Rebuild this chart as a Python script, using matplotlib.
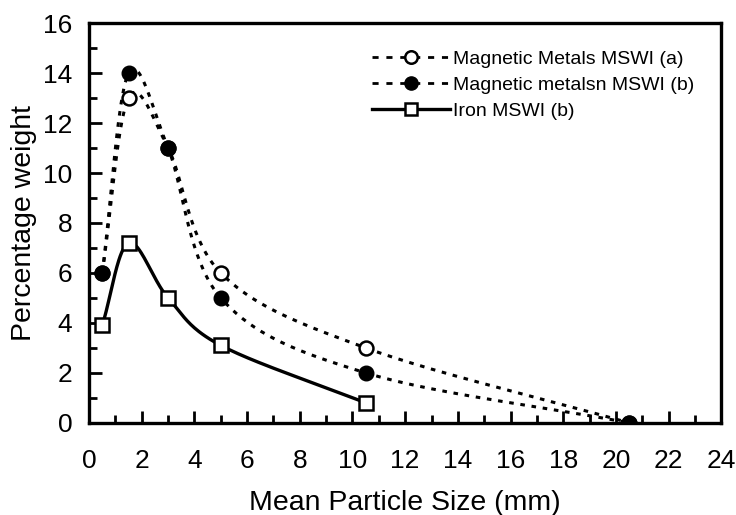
import numpy as np
import matplotlib.pyplot as plt
from matplotlib.ticker import MultipleLocator

plt.rcParams['font.family'] = ['Liberation Sans', 'DejaVu Sans']

# data
x_a = [0.5, 1.5, 3, 5, 10.5, 20.5]
y_a = [6, 13, 11, 6, 3, 0]
x_b = [0.5, 1.5, 3, 5, 10.5, 20.5]
y_b = [6, 14, 11, 5, 2, 0]
x_fe = [0.5, 1.5, 3, 5, 10.5]
y_fe = [3.9, 7.2, 5, 3.1, 0.8]
labels = ['Magnetic Metals MSWI (a)', 'Magnetic metalsn MSWI (b)', 'Iron MSWI (b)']


def smooth(xs, ys, n=40):
    # catmull-rom style curve through the points (like excel smoothed lines)
    xs = np.asarray(xs, float)
    ys = np.asarray(ys, float)
    px = np.concatenate([[2 * xs[0] - xs[1]], xs, [2 * xs[-1] - xs[-2]]])
    py = np.concatenate([[2 * ys[0] - ys[1]], ys, [2 * ys[-1] - ys[-2]]])
    outx, outy = [], []
    for i in range(1, len(px) - 2):
        t = np.linspace(0, 1, n)
        x0, x1, x2, x3 = px[i - 1:i + 3]
        y0, y1, y2, y3 = py[i - 1:i + 3]
        k = 1 / 6
        c1x, c1y = x1 + (x2 - x0) * k, y1 + (y2 - y0) * k
        c2x, c2y = x2 - (x3 - x1) * k, y2 - (y3 - y1) * k
        bx = (1 - t) ** 3 * x1 + 3 * (1 - t) ** 2 * t * c1x + 3 * (1 - t) * t ** 2 * c2x + t ** 3 * x2
        by = (1 - t) ** 3 * y1 + 3 * (1 - t) ** 2 * t * c1y + 3 * (1 - t) * t ** 2 * c2y + t ** 3 * y2
        outx.extend(bx)
        outy.extend(by)
    return outx, outy


fig = plt.figure(figsize=(7.36, 5.15), dpi=100)
ax = fig.add_axes([0.121, 0.179, 0.859, 0.776])

dash = (0, (1.5, 2.2))
sx, sy = smooth(x_a, y_a)
ax.plot(sx, sy, color='black', lw=2.2, ls=dash)
sx, sy = smooth(x_b, y_b)
ax.plot(sx, sy, color='black', lw=2.2, ls=dash)
sx, sy = smooth(x_fe, y_fe)
ax.plot(sx, sy, color='black', lw=2.4)

ax.plot(x_a, y_a, ls='none', marker='o', ms=10, mfc='white', mec='black', mew=1.8, zorder=3)
ax.plot(x_b, y_b, ls='none', marker='o', ms=10.5, mfc='black', mec='black', zorder=4)
ax.plot(x_fe, y_fe, ls='none', marker='s', ms=9.5, mfc='white', mec='black', mew=1.8, zorder=3)

# legend handles
leg_dash = (0, (2.2, 2.8))
ha, = ax.plot([], [], color='black', lw=2, ls=leg_dash, marker='o', ms=9, mfc='white', mec='black', mew=1.8)
hb, = ax.plot([], [], color='black', lw=2, ls=leg_dash, marker='o', ms=9.5, mfc='black', mec='black')
hf, = ax.plot([], [], color='black', lw=2.4, marker='s', ms=8.5, mfc='white', mec='black', mew=1.8)
ax.legend([ha, hb, hf], labels,
          loc='upper right', bbox_to_anchor=(0.985, 0.975), frameon=False, fontsize=14,
          handlelength=4, handletextpad=0.15, labelspacing=0.42)

ax.set_xlim(0, 24)
ax.set_ylim(0, 16)
ax.xaxis.set_major_locator(MultipleLocator(2))
ax.xaxis.set_minor_locator(MultipleLocator(1))
ax.yaxis.set_major_locator(MultipleLocator(2))
ax.yaxis.set_minor_locator(MultipleLocator(1))
ax.tick_params(which='both', direction='in', width=2, labelsize=19)
ax.tick_params(axis='x', which='major', pad=19)
ax.tick_params(axis='y', which='major', pad=12)
ax.tick_params(which='major', length=9)
ax.tick_params(which='minor', length=6)
ax.tick_params(axis='both', which='both', top=False, right=False)
for s in ax.spines.values():
    s.set_linewidth(2.4)

ax.set_xlabel('Mean Particle Size (mm)', fontsize=20.5, labelpad=12)
ax.set_ylabel('Percentage weight', fontsize=20.5, labelpad=4)

fig.savefig('out.png', dpi=100)
